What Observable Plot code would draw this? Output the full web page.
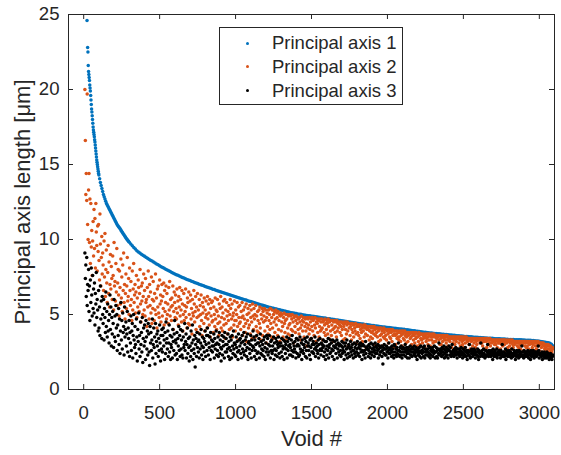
<!DOCTYPE html>
<html><head><meta charset="utf-8">
<script src="https://cdn.jsdelivr.net/npm/d3@7"></script>
<script src="https://cdn.jsdelivr.net/npm/@observablehq/plot@0.6"></script>
<style>
body{margin:0;background:#fff;}
#wrap{position:relative;width:561px;height:455px;font-family:"Liberation Sans",Arial,Helvetica,sans-serif;color:#262626;}
#legend{position:absolute;left:219px;top:27px;width:184px;height:78px;box-sizing:border-box;border:1px solid #262626;background:#fff;}
.row{position:absolute;left:0;width:180px;height:22px;line-height:22px;font-size:18.5px;white-space:nowrap;}
.mk{position:absolute;left:26px;top:9.5px;width:3px;height:3px;border-radius:50%;}
.lab{position:absolute;left:52px;top:0;}
</style></head>
<body><div id="wrap"></div>
<script>
// Void numbers (x) for principal axis 1 (denser sampling in the steep part)
const axis1Void = [22, ...d3.range(26, 100, 2), ...d3.range(100, 300, 5), ...d3.range(300, 3091, 10)];
const axis1Length = [24.6,
22.8,22.5,21.6,21.2,21.0,20.8,20.6,20.3,20.1,19.9,
19.6,19.3,19.0,18.7,18.5,18.25,18.0,17.75,17.5,17.3,
17.15,17.0,16.85,16.65,16.5,16.3,16.1,15.9,15.7,15.5,
15.3,15.15,15.0,14.85,14.7,14.55,14.4,
14.3,14.05,13.8,13.6,13.4,13.2,13.0,12.85,12.7,12.55,
12.4,12.3,12.2,12.1,12.0,11.9,11.8,11.7,11.6,11.5,
11.4,11.3,11.2,11.1,11.0,10.92,10.85,10.78,10.71,10.63,
10.55,10.47,10.39,10.31,10.23,10.16,10.09,10.02,9.95,9.88,
9.82,9.70,9.59,9.47,9.36,9.25,9.17,9.10,9.02,8.95,
8.88,8.82,8.75,8.69,8.62,8.56,8.50,8.44,8.37,8.31,
8.25,8.19,8.13,8.08,8.02,7.96,7.91,7.86,7.80,7.75,
7.70,7.65,7.61,7.56,7.52,7.47,7.43,7.39,7.34,7.30,
7.26,7.22,7.18,7.14,7.10,7.06,7.02,6.98,6.95,6.91,
6.87,6.83,6.80,6.76,6.73,6.69,6.66,6.62,6.59,6.55,
6.52,6.49,6.45,6.42,6.38,6.35,6.32,6.28,6.25,6.21,
6.18,6.15,6.12,6.08,6.05,6.02,5.99,5.96,5.92,5.89,
5.86,5.83,5.80,5.76,5.73,5.70,5.67,5.64,5.61,5.58,
5.55,5.52,5.49,5.47,5.44,5.41,5.38,5.36,5.33,5.31,
5.28,5.26,5.23,5.21,5.18,5.16,5.14,5.12,5.10,5.08,
5.06,5.04,5.02,5.01,4.99,4.97,4.95,4.94,4.92,4.91,
4.89,4.88,4.86,4.85,4.83,4.82,4.80,4.79,4.77,4.76,
4.74,4.72,4.71,4.69,4.68,4.66,4.64,4.63,4.61,4.60,
4.58,4.56,4.55,4.53,4.52,4.50,4.48,4.47,4.45,4.44,
4.42,4.40,4.39,4.37,4.36,4.34,4.33,4.31,4.30,4.28,
4.27,4.26,4.24,4.23,4.21,4.20,4.19,4.17,4.16,4.15,
4.14,4.13,4.11,4.10,4.09,4.08,4.07,4.05,4.04,4.03,
4.02,4.01,3.99,3.98,3.96,3.95,3.94,3.92,3.91,3.89,
3.88,3.87,3.85,3.84,3.82,3.81,3.80,3.78,3.77,3.76,
3.75,3.74,3.73,3.72,3.71,3.70,3.69,3.68,3.67,3.66,
3.65,3.64,3.63,3.62,3.61,3.60,3.59,3.58,3.57,3.56,
3.55,3.54,3.53,3.53,3.52,3.51,3.50,3.49,3.49,3.48,
3.47,3.46,3.45,3.45,3.44,3.43,3.42,3.42,3.41,3.41,
3.40,3.39,3.39,3.38,3.38,3.37,3.36,3.36,3.35,3.35,
3.34,3.34,3.33,3.33,3.32,3.32,3.31,3.31,3.31,3.30,
3.30,3.29,3.29,3.28,3.28,3.27,3.26,3.25,3.24,3.23,
3.22,3.20,3.18,3.17,3.15,3.13,3.11,3.08,3.02,2.90];

// Void numbers (x) for principal axes 2 and 3
const voidNumber = d3.range(8, 3090, 3);
const axis2Length = [
20.0,16.6,13.0,14.4,12.6,19.7,11.0,10.0,13.3,14.4,
9.8,12.7,8.4,12.4,9.5,10.6,7.6,9.9,11.2,8.9,
12.0,9.4,11.4,8.1,12.4,10.5,9.6,7.9,10.9,9.2,
11.0,8.6,7.3,11.7,9.7,6.9,8.8,10.2,7.7,9.1,
8.3,6.6,9.9,7.5,10.4,6.2,8.0,9.3,7.1,5.8,
7.8,9.6,6.4,8.5,5.5,7.0,9.0,6.7,8.2,7.4,
6.0,8.9,7.6,5.3,9.8,6.9,7.2,5.9,8.4,6.5,
9.4,5.6,7.1,8.0,6.3,4.9,7.9,6.8,5.7,8.7,
6.1,7.5,5.2,8.3,6.6,9.1,5.8,7.0,4.7,6.4,
7.7,5.4,6.9,8.8,5.9,6.2,7.4,5.0,8.1,6.6,
5.6,7.2,6.0,4.6,7.9,5.3,6.7,8.4,5.8,6.3,
7.0,5.1,6.5,7.6,4.8,6.1,5.5,7.3,6.8,5.2,
6.4,8.0,5.7,4.5,6.9,5.9,7.1,5.0,6.2,7.7,
5.3,6.6,4.9,7.4,5.8,6.0,4.2,6.8,5.5,7.9,
6.2,4.7,7.0,5.6,6.5,5.1,7.5,4.4,6.0,5.4,
7.2,5.9,4.6,6.4,5.3,7.7,5.0,6.1,4.1,6.7,
5.5,6.9,5.1,4.8,7.3,5.7,6.3,4.5,5.9,7.0,
4.9,6.2,5.4,7.1,4.3,6.6,5.2,5.8,6.9,4.7,
6.4,5.0,5.7,4.4,6.8,5.3,7.2,4.9,6.0,5.5,
4.6,6.1,5.6,6.9,4.0,5.2,6.5,5.8,4.8,6.3,
5.4,4.7,6.7,5.1,5.9,4.3,6.2,5.5,6.8,4.9,
6.0,5.3,4.5,6.6,5.7,3.9,5.0,6.4,4.6,5.6,
5.2,6.7,4.8,5.5,4.1,6.1,5.8,4.4,6.5,5.0,
4.3,5.9,6.3,4.7,5.4,3.7,6.0,5.1,4.9,6.6,
5.7,4.5,5.2,6.2,4.0,5.5,4.8,6.4,3.8,5.3,
4.9,6.0,4.2,5.6,5.0,6.3,4.6,3.6,5.8,5.1,
5.5,4.4,6.1,3.9,5.3,4.8,5.9,5.0,4.1,6.2,
4.7,5.7,5.1,4.3,6.0,3.5,5.4,4.9,5.8,4.5,
5.9,4.6,3.8,5.5,5.0,4.2,6.1,4.7,5.3,4.0,
5.2,6.0,4.4,4.9,3.6,5.7,4.5,5.4,6.2,4.1,
4.8,5.5,3.9,5.1,5.9,4.3,4.7,6.0,3.4,5.3,
4.4,5.8,4.9,3.7,5.2,4.6,5.6,4.0,5.0,6.0,
5.4,4.1,4.7,5.7,3.5,4.9,5.1,4.3,5.9,4.6,
3.9,5.3,4.6,5.0,5.8,4.2,3.3,5.5,4.8,4.4,
5.6,4.5,4.0,5.2,4.8,5.8,3.6,4.9,5.3,4.2,
4.7,5.5,3.8,4.4,5.7,3.2,5.0,4.6,5.4,4.1,
5.1,4.3,5.6,3.7,4.8,5.3,4.5,3.4,5.7,4.9,
4.0,5.4,4.7,5.0,3.5,5.6,4.2,4.9,3.9,5.2,
4.6,3.8,5.3,4.4,5.5,4.1,3.3,5.0,4.7,5.4,
3.6,5.2,4.5,4.9,5.4,3.9,4.6,5.3,3.1,4.8,
5.1,4.2,3.7,5.3,4.6,5.0,4.0,5.4,4.4,3.5,
4.8,5.3,4.1,3.4,5.0,4.5,5.2,3.8,4.7,5.3,
4.3,5.1,4.8,3.6,5.2,4.0,4.6,5.0,3.2,4.9,
5.1,3.9,4.5,5.0,4.2,3.5,4.8,5.1,4.4,3.8,
4.6,5.0,3.3,4.7,5.0,4.1,3.7,4.9,4.3,5.0,
4.4,3.6,4.9,4.0,4.7,5.0,3.9,4.5,3.1,4.8,
4.9,4.2,3.8,4.6,4.9,3.4,4.4,4.8,4.0,4.7,
3.7,4.8,4.5,4.1,3.3,4.9,4.3,4.6,3.9,4.8,
4.5,3.5,4.8,4.2,4.7,3.9,4.4,2.9,4.8,4.1,
4.7,4.3,3.7,4.8,4.0,4.5,3.4,4.7,4.2,4.8,
3.9,4.6,4.7,3.6,4.3,4.8,4.1,3.2,4.5,4.7,
4.4,3.8,4.7,4.6,3.5,4.2,4.7,3.9,4.5,4.0,
4.7,4.1,3.3,4.5,4.6,3.8,4.3,4.7,3.6,4.4,
4.0,4.6,4.4,3.7,4.7,4.2,3.4,4.5,4.6,3.9,
4.6,3.6,4.3,4.6,4.0,3.2,4.5,4.1,4.6,3.8,
4.2,4.5,3.5,4.6,3.9,4.4,4.1,3.0,4.5,4.3,
3.8,4.5,4.2,3.6,4.5,4.0,4.4,3.3,4.2,4.5,
4.4,3.4,4.0,4.5,3.7,4.3,4.5,3.9,2.9,4.4,
4.1,4.4,3.6,4.2,4.4,3.3,4.0,4.4,3.8,4.3,
3.5,4.3,4.1,3.9,4.4,3.7,3.1,4.2,4.3,3.8,
4.3,3.6,4.2,4.3,3.4,4.0,4.3,3.8,4.1,3.2,
4.2,3.9,4.3,3.5,4.1,4.3,3.7,2.8,4.2,4.0,
3.6,4.2,4.0,4.2,3.3,3.9,4.2,3.5,4.1,3.8,
4.2,3.4,3.9,4.1,3.7,4.2,3.0,4.0,3.6,4.1,
3.8,4.1,3.5,4.1,3.9,3.2,4.0,4.1,3.6,3.3,
4.1,3.7,3.9,2.9,4.0,3.5,4.1,3.8,3.4,4.0,
3.6,4.0,3.3,3.9,4.0,3.7,3.1,4.0,3.8,3.5,
4.0,3.4,3.8,3.9,3.2,4.0,3.6,3.9,2.8,3.7,
3.9,3.6,3.0,3.9,3.7,3.4,3.9,3.5,3.8,3.3,
3.5,3.9,3.8,3.2,3.6,3.9,2.9,3.7,3.9,3.4,
3.8,3.3,3.9,3.6,3.8,3.1,3.5,3.8,3.7,3.2,
3.6,3.8,2.7,3.7,3.4,3.8,3.5,3.0,3.8,3.6,
3.8,3.3,3.6,3.8,3.1,3.7,3.4,3.8,3.5,2.9,
3.5,3.7,3.2,3.8,3.6,3.0,3.7,3.4,3.7,3.3,
3.7,3.1,3.6,3.4,3.7,3.5,2.8,3.6,3.7,3.2,
3.4,3.7,3.5,3.0,3.7,3.3,3.6,3.7,2.9,3.5,
3.6,3.3,3.7,3.5,3.1,3.6,3.7,3.2,3.5,3.6,
3.2,3.6,3.4,3.6,2.7,3.5,3.6,3.3,3.6,3.0,
3.6,3.4,3.0,3.5,3.6,3.2,3.5,3.6,3.4,2.8,
3.3,3.6,3.5,3.1,3.5,3.6,3.3,2.9,3.5,3.4,
3.5,3.2,3.5,3.4,3.5,2.8,3.4,3.5,3.1,3.5,
3.3,3.5,3.0,3.5,3.4,3.2,3.5,2.7,3.4,3.5,
3.4,3.1,3.5,3.3,2.9,3.5,3.4,3.5,3.2,3.0,
3.5,3.3,2.8,3.4,3.5,3.1,3.4,3.5,3.3,2.6,
3.2,3.4,3.4,3.0,3.4,3.3,2.7,3.4,3.2,3.4,
3.4,2.9,3.3,3.4,3.1,3.4,3.3,2.8,3.4,3.2,
3.0,3.4,3.3,3.4,2.6,3.3,3.4,3.1,3.3,3.4,
3.3,3.1,3.4,2.9,3.3,3.4,3.2,3.4,2.7,3.3,
3.4,3.2,2.8,3.3,3.4,3.0,3.3,3.3,3.1,3.4,
2.9,3.3,3.3,3.1,3.3,2.6,3.3,3.2,3.3,3.0,
3.3,3.2,3.0,3.3,3.3,2.8,3.2,3.3,3.1,3.3,
3.1,3.3,2.7,3.2,3.3,3.0,3.3,2.9,3.2,3.3,
3.3,3.0,3.2,3.3,2.6,3.2,3.1,3.3,2.8,3.2,
3.2,3.3,2.9,3.2,3.1,3.3,2.7,3.2,3.3,3.0,
2.8,3.2,3.2,3.0,3.2,2.5,3.2,3.1,3.2,2.9,
3.2,3.1,2.8,3.2,3.2,3.0,2.7,3.2,3.1,3.2,
3.0,3.2,3.1,2.6,3.2,3.2,2.9,3.1,3.2,2.8,
3.2,2.9,3.2,3.1,2.7,3.2,3.0,3.2,2.5,3.1,
3.1,3.2,2.8,3.0,3.2,3.1,2.6,3.1,3.2,2.9,
3.2,2.7,3.1,3.1,2.9,3.2,3.0,2.6,3.1,3.1,
3.0,3.1,2.8,3.1,2.5,3.0,3.1,2.9,3.0,2.7,
3.0,2.8,3.0,2.6,3.0,2.9,2.7,3.0,2.9,2.5,
2.9,2.7,2.9,2.6,2.8,2.5,2.8,2.7];
const axis3Length = [
9.1,7.4,8.3,6.2,8.8,5.6,7.0,6.6,8.0,5.2,
6.9,4.6,7.3,5.8,8.1,6.3,4.9,7.6,5.4,6.7,
5.1,7.1,4.3,6.4,5.7,7.8,4.8,6.0,5.3,3.9,
6.6,4.1,5.5,3.6,6.9,4.7,5.9,3.4,6.2,5.0,
4.4,6.0,3.3,5.4,4.8,3.8,6.5,4.2,5.2,3.5,
5.7,3.9,4.6,3.1,5.0,6.3,4.0,5.5,2.9,4.8,
3.7,5.2,4.4,2.8,6.0,3.5,4.9,3.2,5.6,4.1,
5.0,2.6,4.3,3.6,5.4,3.0,4.7,2.4,3.9,5.8,
3.3,4.6,2.7,5.1,3.8,4.2,2.3,5.5,3.5,4.0,
4.5,2.9,3.7,5.2,2.5,4.1,3.4,4.6,2.2,3.8,
3.1,4.9,2.6,3.9,4.4,2.1,3.6,5.0,3.3,2.8,
4.2,3.0,2.4,4.7,3.5,1.9,4.0,3.2,5.1,2.7,
3.6,2.2,4.5,3.0,3.8,2.5,4.8,1.8,3.4,4.1,
2.9,4.3,3.2,2.0,4.6,3.5,2.7,3.9,2.3,4.4,
3.7,2.5,1.6,4.2,3.1,3.8,2.6,3.3,4.7,2.1,
3.0,4.1,2.8,3.5,1.7,4.4,2.4,3.2,3.7,2.9,
3.9,2.2,3.4,2.6,4.3,3.1,1.9,3.6,2.7,4.0,
2.5,3.6,4.1,2.9,3.3,2.0,3.8,2.4,4.5,3.1,
3.4,2.7,3.9,2.2,3.1,4.3,2.5,3.6,2.0,3.0,
2.8,3.5,2.1,4.0,3.2,2.6,3.7,4.6,2.3,3.3,
3.1,2.4,3.8,2.0,3.4,2.9,4.2,2.6,3.6,2.2,
4.0,2.7,3.3,2.3,3.9,2.1,3.5,2.8,3.0,4.4,
2.6,3.2,3.7,2.1,3.0,4.1,2.4,3.4,2.8,1.9,
3.5,2.9,2.2,3.9,2.6,3.1,4.3,2.0,3.3,2.7,
2.4,3.6,1.5,3.0,3.4,2.2,3.8,2.8,3.2,2.5,
3.3,2.1,3.7,2.7,3.1,4.0,2.3,2.9,3.5,2.0,
2.8,3.4,2.5,3.2,3.9,2.2,3.0,3.6,2.6,4.1,
3.6,2.3,3.1,2.8,3.5,2.0,3.8,2.6,3.3,2.9,
2.5,3.2,2.9,3.7,2.1,3.4,2.7,3.0,3.9,2.3,
3.1,2.6,3.5,2.2,3.0,3.8,2.4,3.3,2.8,1.9,
2.7,3.6,2.3,3.2,2.9,3.5,2.1,3.8,2.5,3.0,
3.4,2.5,3.0,2.7,3.7,2.2,3.2,2.8,2.0,3.5,
2.6,3.3,2.1,3.6,2.9,2.4,3.9,2.7,3.1,2.3,
3.0,2.2,3.5,2.8,3.2,2.5,2.0,3.7,2.6,3.3,
2.9,3.4,2.4,3.1,2.1,3.6,2.7,3.2,2.5,3.8,
2.3,3.0,3.3,2.6,3.5,2.2,2.8,3.7,2.0,3.1,
3.2,2.7,2.4,3.0,3.6,2.1,3.3,2.6,2.9,3.9,
2.8,3.5,2.2,3.3,2.6,3.0,2.0,3.6,2.4,3.1,
2.5,3.1,3.4,2.1,2.9,3.7,2.4,3.2,2.7,2.3,
3.0,2.6,3.3,2.2,3.5,2.8,2.0,3.1,2.5,3.6,
2.7,3.4,2.3,3.0,2.5,3.6,2.9,2.1,3.2,2.6,
3.3,2.4,2.9,2.6,3.5,2.0,3.1,2.7,2.3,3.4,
2.6,3.2,2.2,3.0,2.8,3.5,2.4,3.1,2.1,2.9,
3.1,2.5,3.4,2.2,2.9,2.7,3.3,2.0,2.8,3.2,
2.4,3.0,2.7,3.5,2.1,3.2,2.6,2.9,3.4,2.3,
3.0,2.8,2.3,3.3,2.6,3.6,2.2,3.1,2.5,2.9,
2.7,3.2,2.5,2.1,3.4,2.9,2.4,3.0,3.3,2.2,
2.9,2.3,3.5,2.7,2.5,3.1,2.0,3.3,2.6,3.0,
2.4,3.0,2.8,3.4,2.2,3.2,2.6,2.1,3.5,2.9,
3.1,2.6,2.9,2.3,3.3,2.0,2.8,3.4,2.5,3.0,
2.5,3.2,2.4,3.0,2.7,3.5,2.2,2.8,3.1,2.6,
2.9,2.4,3.3,2.1,3.0,2.6,3.4,2.7,2.3,3.1,
2.6,3.0,2.8,3.3,2.2,2.9,2.5,3.2,2.0,2.7,
3.2,2.3,2.9,2.6,3.4,2.1,2.8,3.0,2.4,3.3,
2.5,3.1,2.7,2.2,3.3,2.6,2.9,2.0,3.2,2.8,
2.8,2.4,3.0,3.3,2.1,2.7,3.1,2.5,2.9,2.3,
3.0,2.6,2.2,2.9,3.2,2.4,2.8,2.6,3.1,2.0,
2.5,2.9,3.1,2.3,2.7,3.3,2.1,2.8,2.4,3.0,
2.9,2.2,2.7,3.2,2.5,2.8,2.3,3.0,2.6,2.1,
2.6,3.1,2.4,2.8,2.2,3.0,2.5,2.7,3.2,2.3,
2.4,2.8,3.0,2.2,2.7,3.1,2.5,2.9,2.0,2.6,
3.0,2.5,2.3,2.9,2.6,2.1,3.2,2.4,2.8,2.7,
2.7,2.9,2.2,2.6,3.0,2.4,2.8,2.1,3.1,2.5,
2.3,2.7,3.0,2.5,2.8,2.2,2.6,3.1,2.4,2.9,
2.8,2.4,2.6,3.0,2.1,2.7,2.9,2.3,2.5,2.8,
2.5,2.9,2.2,2.6,1.7,2.8,2.4,3.0,2.7,2.3,
2.7,2.3,2.9,2.5,2.8,2.1,2.6,3.1,2.4,2.7,
2.4,2.8,2.6,2.2,2.9,2.5,2.7,2.3,2.1,3.0,
2.9,2.5,2.3,2.7,2.2,2.8,2.4,2.6,3.1,2.3,
2.6,2.2,2.8,2.5,2.9,2.3,2.1,2.7,2.5,2.8,
2.3,2.7,2.5,3.0,2.2,2.6,2.8,2.4,2.1,2.6,
2.8,2.4,2.1,2.6,2.9,2.3,2.7,2.5,2.2,2.8,
2.5,2.7,2.3,2.9,2.4,2.6,2.2,2.8,2.5,2.0,
2.7,2.3,2.6,2.4,2.8,2.2,2.5,2.9,2.1,2.6,
2.4,2.6,2.8,2.2,2.5,2.9,2.1,2.7,2.3,2.5,
2.6,2.3,2.7,2.5,2.9,2.2,2.4,2.8,2.1,2.6,
2.3,2.7,2.5,2.8,2.2,2.6,2.4,2.9,2.5,2.1,
2.5,2.8,2.2,2.6,2.1,2.7,2.4,3.1,2.3,2.6,
2.7,2.4,2.6,2.2,2.8,2.5,2.3,2.7,2.9,2.1,
2.4,2.6,2.2,2.8,2.5,2.3,2.7,2.1,2.6,2.9,
2.6,2.3,2.8,2.5,2.2,2.4,3.0,2.3,2.6,2.5,
2.2,2.7,2.4,2.6,2.8,2.3,2.5,2.1,2.7,2.4,
2.5,2.3,2.7,2.2,2.6,2.4,2.8,2.3,2.5,2.1,
2.7,2.4,2.2,2.6,2.3,2.8,2.5,2.2,2.6,2.0,
2.4,2.6,2.3,2.5,3.0,2.2,2.1,2.6,2.4,2.7,
2.6,2.2,2.5,2.3,2.7,2.4,2.6,2.1,2.5,2.3,
2.3,2.5,2.7,2.2,2.0,2.6,2.4,2.5,2.2,3.1,
2.5,2.3,2.6,2.4,2.2,2.7,2.4,2.3,2.1,2.6,
2.2,2.6,2.3,2.5,3.0,2.4,2.2,2.6,2.3,2.5,
2.4,2.2,2.6,2.3,2.5,2.0,2.7,2.4,2.2,2.5,
2.6,2.3,2.4,2.2,2.7,2.1,2.5,2.3,2.4,2.6,
2.3,2.5,2.1,2.6,2.4,2.2,3.0,2.3,2.5,2.2,
2.5,2.2,2.4,2.7,2.0,2.3,2.6,2.4,2.2,2.5,
2.3,2.6,2.2,2.4,2.5,2.2,2.1,2.7,2.4,2.3,
2.2,2.4,2.6,2.3,2.5,2.0,2.4,2.2,2.6,2.3,
2.5,2.3,2.1,2.6,2.2,2.4,2.2,2.5,2.3,2.9,
2.3,2.5,2.2,2.1,2.6,2.3,2.4,2.2,2.5,2.3,
2.4,2.2,2.6,2.3,2.1,2.5,2.3,2.4,2.0,2.6,
2.2,2.5,2.3,2.4,2.6,2.2,2.1,2.4,2.3,2.5,
2.5,2.2,2.4,2.3,2.5,2.9,2.6,2.1,2.4,2.3,
2.3,2.4,2.2,2.5,2.0,2.3,2.4,2.2,2.5,2.1,
2.4,2.2,2.3,2.1,2.5,2.3,2.2,2.4,2.2,2.0,
2.3,2.1,2.4,2.2,2.3,2.0,2.2,2.3];

const seriesNames = ["Principal axis 1", "Principal axis 2", "Principal axis 3"];
const seriesColors = ["#0072BD", "#D95319", "#000000"];
const xTicks = [0, 500, 1000, 1500, 2000, 2500, 3000];
const yTicks = [0, 5, 10, 15, 20, 25];
const xLabel = "Void #";
const yLabel = "Principal axis length [μm]";

const rows1 = d3.range(Math.min(axis1Void.length, axis1Length.length)).map(i => ({v: axis1Void[i], len: axis1Length[i]}));
const rows2 = d3.range(Math.min(voidNumber.length, axis2Length.length)).map(i => ({v: voidNumber[i], len: axis2Length[i]}));
const rows3 = d3.range(Math.min(voidNumber.length, axis3Length.length)).map(i => ({v: voidNumber[i], len: axis3Length[i]}));

const ink = "#262626";
const font = "'Liberation Sans', Arial, Helvetica, sans-serif";
const chart = Plot.plot({
  width: 561, height: 455,
  marginLeft: 68, marginRight: 7, marginTop: 14, marginBottom: 66,
  x: {domain: [-100, 3100]},
  y: {domain: [0, 25]},
  style: {fontFamily: font, fontSize: "19px", color: ink, background: "#fff"},
  marks: [
    Plot.dot(rows1, {x: "v", y: "len", r: 1.75, fill: seriesColors[0], clip: true}),
    Plot.dot(rows2, {x: "v", y: "len", r: 1.75, fill: seriesColors[1], clip: true}),
    Plot.dot(rows3, {x: "v", y: "len", r: 1.75, fill: seriesColors[2], clip: true}),
    Plot.frame({stroke: ink}),
    Plot.axisX({ticks: xTicks, tickFormat: d3.format("d"), tickSize: 0, tickPadding: 16, label: null, fontSize: 18.6}),
    Plot.axisY({ticks: yTicks, tickFormat: d3.format("d"), tickSize: 0, tickPadding: 9, label: null, fontSize: 18.6}),
    Plot.tickX(xTicks, {x: d => d, insetTop: 370, stroke: ink}),
    Plot.tickX(xTicks, {x: d => d, insetBottom: 370, stroke: ink}),
    Plot.tickY(yTicks, {y: d => d, insetRight: 481, stroke: ink}),
    Plot.tickY(yTicks, {y: d => d, insetLeft: 481, stroke: ink}),
    Plot.text([xLabel], {frameAnchor: "bottom", dy: 56, fontSize: 22, fill: ink}),
    Plot.text([yLabel], {frameAnchor: "left", textAnchor: "middle", rotate: -90, dx: -46, fontSize: 22, fill: ink})
  ]
});
const wrap = document.getElementById("wrap");
wrap.appendChild(chart);

const legend = document.createElement("div");
legend.id = "legend";
seriesNames.forEach((name, i) => {
  const row = document.createElement("div");
  row.className = "row";
  row.style.top = (4 + i * 23.8) + "px";
  const mk = document.createElement("span");
  mk.className = "mk";
  mk.style.background = seriesColors[i];
  const lab = document.createElement("span");
  lab.className = "lab";
  lab.textContent = name;
  row.appendChild(mk);
  row.appendChild(lab);
  legend.appendChild(row);
});
wrap.appendChild(legend);
</script>
</body></html>
